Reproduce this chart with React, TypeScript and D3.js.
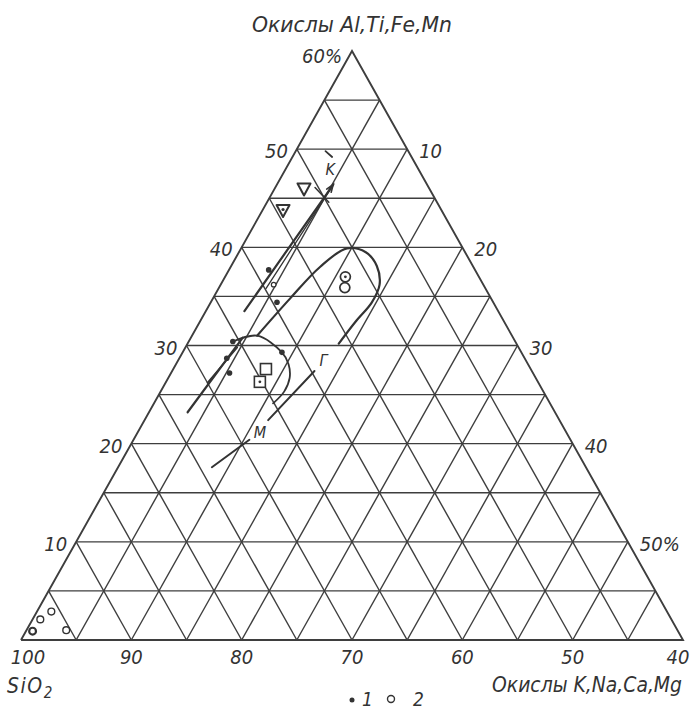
import React from "react";
import * as d3 from "d3";

// Ternary point: [Al,Ti,Fe,Mn oxides %, K,Na,Ca,Mg oxides %]; SiO2 = 100 - both
type TP = [number, number];

const SIO2_TICKS = [100, 90, 80, 70, 60, 50, 40];
const AL_TICKS = [10, 20, 30, 40, 50, 60];
const ALK_TICKS = [10, 20, 30, 40, 50];
const GRID_STEPS = d3.range(5, 60, 5);

// legend 1: filled dots
const SERIES1_POINTS: TP[] = [[37.7, 3.6], [34.4, 6.0], [30.4, 4.0], [29.3, 9.0], [28.7, 4.3], [27.2, 5.3]];
// legend 2: open circles
const SERIES2_POINTS: TP[] = [[0.9, 0.6], [2.1, 0.7], [2.9, 1.3], [1.0, 3.6]];
const SMALL_RINGS: TP[] = [[36.2, 4.8]];
const RING_PAIR: TP[] = [[37.0, 10.9], [35.9, 11.4]];
const SQUARES: TP[] = [[27.6, 8.4], [26.3, 8.5]];
const TRIANGLES: TP[] = [[45.9, 2.7], [43.7, 1.9]];

// trend lines
const K_LINE: TP[] = [[33.5, 3.5], [46.4, 5.1]];
const K_LINE_INNER: TP[] = [[35.8, 4.3], [46.0, 5.1]];
const K_CROSS: TP[] = [[46.1, 3.6], [44.6, 5.6]];
const K_TICK: TP[] = [[49.8, 2.7], [49.2, 3.6]];
const LEFT_LINE: TP[] = [[23.2, 3.5], [30.8, 4.7]];
const LEFT_LINE_INNER: TP[] = [[26.2, 3.8], [29.8, 4.7]];
const LOOP_CURVE: TP[] = [[31.0, 5.9], [34.8, 7.0], [38.0, 8.1], [39.9, 9.6], [39.5, 11.5], [38.1, 13.2], [36.2, 14.4], [34.4, 14.6], [32.4, 14.1], [30.2, 13.7]];
const G_LINE: TP[] = [[22.4, 11.2], [27.4, 12.9]];
const SMALL_LOOP: TP[] = [[30.4, 4.0], [31.0, 5.9], [29.3, 9.0], [28.1, 10.2], [26.7, 11.0], [25.3, 11.2], [24.1, 10.8]];
const M_LINE: TP[] = [[17.6, 8.5], [20.4, 10.5]];

const TREND_LABELS: { text: string; at: TP }[] = [
  { text: "K", at: [47.4, 3.9] },
  { text: "Г", at: [27.9, 13.1] },
  { text: "M", at: [20.6, 10.8] },
];

const W = 692;
const H = 709;
const xs = d3.scaleLinear().domain([0, 60]).range([21, 683]);
const ys = d3.scaleLinear().domain([0, 60]).range([640, 51]);
const proj = ([a, b]: TP): [number, number] => [xs(b + a / 2), ys(a)];

const FONT = "'Liberation Sans Narrow','DejaVu Sans Condensed','Arial Narrow',sans-serif";
const INK = "#333";
const GRID = "#3e3e3e";

const straight = d3.line<TP>().x((p) => proj(p)[0]).y((p) => proj(p)[1]);
const smooth = d3
  .line<TP>()
  .x((p) => proj(p)[0])
  .y((p) => proj(p)[1])
  .curve(d3.curveCatmullRom.alpha(0.5));

function arrowHead(line: TP[]) {
  const [x1, y1] = proj(line[line.length - 2]);
  const [x2, y2] = proj(line[line.length - 1]);
  const ang = Math.atan2(y2 - y1, x2 - x1);
  const len = 8;
  const a1 = ang + Math.PI - 0.35;
  const a2 = ang + Math.PI + 0.35;
  return `M${x2 + len * Math.cos(a1)},${y2 + len * Math.sin(a1)}L${x2},${y2}L${x2 + len * Math.cos(a2)},${y2 + len * Math.sin(a2)}`;
}

export default function App() {
  const gridSegs: TP[][] = GRID_STEPS.flatMap((k) => [
    [[k, 0], [k, 60 - k]] as TP[],
    [[0, k], [60 - k, k]] as TP[],
    [[k, 0], [0, k]] as TP[],
  ]);
  const outline: TP[] = [[0, 0], [0, 60], [60, 0], [0, 0]];

  const textProps = { fontFamily: FONT, fontStyle: "italic", fill: INK } as const;

  return (
    <svg
      width={W}
      height={H}
      viewBox={`0 0 ${W} ${H}`}
      style={{ position: "absolute", left: 0, top: 0, background: "#fff" }}
    >
      <rect width={W} height={H} fill="#fff" />
      <g fill="none" stroke={GRID} strokeWidth={1.4}>
        {gridSegs.map((s, i) => (
          <path key={i} d={straight(s) || ""} />
        ))}
        <path d={straight(outline) || ""} strokeWidth={1.9} strokeLinejoin="miter" />
      </g>

      {/* trend lines */}
      <g fill="none" stroke={INK} strokeLinecap="round">
        <path d={straight(K_LINE) || ""} strokeWidth={2.2} />
        <path d={straight(K_LINE_INNER) || ""} strokeWidth={1.3} />
        <path d={arrowHead(K_LINE)} strokeWidth={1.6} />
        <path d={straight(K_CROSS) || ""} strokeWidth={1.5} />
        <path d={straight(K_TICK) || ""} strokeWidth={1.8} />
        <path d={straight(LEFT_LINE) || ""} strokeWidth={2.2} />
        <path d={straight(LEFT_LINE_INNER) || ""} strokeWidth={1.6} />
        <path d={smooth(LOOP_CURVE) || ""} strokeWidth={2.2} />
        <path d={straight(G_LINE) || ""} strokeWidth={2} />
        <path d={smooth(SMALL_LOOP) || ""} strokeWidth={1.8} />
        <path d={straight(M_LINE) || ""} strokeWidth={2} />
      </g>

      {/* symbols */}
      {TRIANGLES.map((p, i) => {
        const [x, y] = proj(p);
        return (
          <g key={"t" + i}>
            <path
              d={`M${x - 6.5},${y - 6}L${x + 6.5},${y - 6}L${x},${y + 6}Z`}
              fill="#fff"
              stroke={INK}
              strokeWidth={2}
              strokeLinejoin="round"
            />
            {i === 1 && <circle cx={x} cy={y - 1.5} r={1.6} fill={INK} />}
          </g>
        );
      })}
      {SQUARES.map((p, i) => {
        const [x, y] = proj(p);
        return (
          <g key={"s" + i}>
            <rect x={x - 5.5} y={y - 5.5} width={11} height={11} fill="#fff" stroke={INK} strokeWidth={1.6} />
            {i === 1 && <circle cx={x} cy={y} r={1.4} fill={INK} />}
          </g>
        );
      })}
      {RING_PAIR.map((p, i) => {
        const [x, y] = proj(p);
        return (
          <g key={"r" + i}>
            <circle cx={x} cy={y} r={5} fill="#fff" stroke={INK} strokeWidth={1.7} />
            {i === 0 && <circle cx={x} cy={y} r={1.4} fill={INK} />}
          </g>
        );
      })}
      {SMALL_RINGS.map((p, i) => {
        const [x, y] = proj(p);
        return <circle key={"sr" + i} cx={x} cy={y} r={2.3} fill="#fff" stroke={INK} strokeWidth={1.2} />;
      })}
      {SERIES1_POINTS.map((p, i) => {
        const [x, y] = proj(p);
        return <circle key={"d" + i} cx={x} cy={y} r={2.8} fill={INK} />;
      })}
      {SERIES2_POINTS.map((p, i) => {
        const [x, y] = proj(p);
        return (
          <circle key={"c" + i} cx={x} cy={y} r={3.4} fill="#fff" stroke={INK} strokeWidth={i === 0 ? 2.2 : 1.4} />
        );
      })}

      {/* trend labels */}
      {TREND_LABELS.map((l) => {
        const [x, y] = proj(l.at);
        return (
          <text key={l.text} x={x} y={y} fontSize={16} {...textProps}>
            {l.text}
          </text>
        );
      })}

      {/* axis tick labels */}
      {SIO2_TICKS.map((s) => {
        const [x, y] = proj([0, 100 - s]);
        const dx = s === 100 ? 7 : s === 40 ? -5 : 0;
        return (
          <text key={"b" + s} x={x + dx} y={y + 24} fontSize={20} textAnchor="middle" {...textProps}>
            {s}
          </text>
        );
      })}
      {AL_TICKS.map((a) => {
        const [x, y] = proj([a, 0]);
        const top = a === 60;
        return (
          <text
            key={"l" + a}
            x={x - (top ? 10 : 9)}
            y={y + (top ? 12 : 9)}
            fontSize={20}
            textAnchor="end"
            {...textProps}
          >
            {top ? `${a}%` : a}
          </text>
        );
      })}
      {ALK_TICKS.map((b) => {
        const [x, y] = proj([60 - b, b]);
        return (
          <text key={"r" + b} x={x + 12} y={y + 9} fontSize={20} {...textProps}>
            {b === 50 ? `${b}%` : b}
          </text>
        );
      })}

      {/* axis titles */}
      <text x={252} y={32} fontSize={21} textLength={200} lengthAdjust="spacingAndGlyphs" {...textProps}>
        Окислы Al,Ti,Fe,Mn
      </text>
      <text x={492} y={692} fontSize={21} textLength={190} lengthAdjust="spacingAndGlyphs" {...textProps}>
        Окислы K,Na,Ca,Mg
      </text>
      <text x={7} y={693} fontSize={21} letterSpacing={1.5} {...textProps}>
        SiO
        <tspan dy={5} fontSize={15}>
          2
        </tspan>
      </text>

      {/* legend */}
      <circle cx={352} cy={700} r={2.5} fill={INK} />
      <text x={362} y={706} fontSize={19} {...textProps}>
        1
      </text>
      <circle cx={391} cy={699} r={3.5} fill="none" stroke={INK} strokeWidth={1.4} />
      <text x={413} y={706} fontSize={19} {...textProps}>
        2
      </text>
    </svg>
  );
}
